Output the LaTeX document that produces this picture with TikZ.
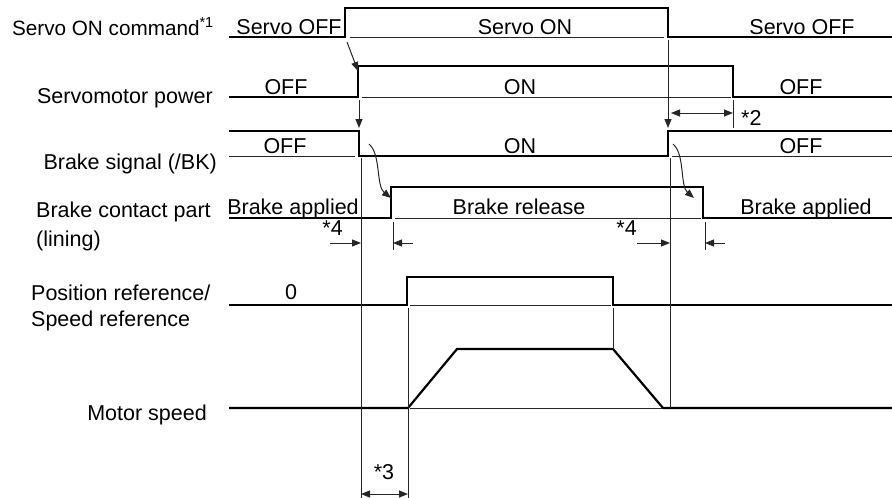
\documentclass[tikz,border=0pt]{standalone}
\usepackage{fontspec}
\setmainfont{Liberation Sans}
\usetikzlibrary{arrows.meta}
\begin{document}
\begin{tikzpicture}[x=1pt,y=-1pt,
  sig/.style={line width=2.2pt, line join=miter, draw=black},
  thinl/.style={line width=1pt, draw=black!85},
  arr/.style={thinl, -{Triangle[length=9pt,width=7pt]}},
  darr/.style={thinl, {Triangle[length=9pt,width=7pt]}-{Triangle[length=9pt,width=7pt]}},
  txt/.style={inner sep=0pt, font=\fontsize{21.5}{25}\selectfont, text=black},
  lt/.style={txt, anchor=base},
  le/.style={txt, anchor=base east},
  lw/.style={txt, anchor=base west}]
\useasboundingbox (0,0) rectangle (892,498);

% left labels
\node[le, font=\fontsize{20.7}{25}\selectfont] (l1) at (214,35) {Servo ON command\textsuperscript{*1}};
\node[le] (l2) at (213,103) {Servomotor power};
\node[le] (l3) at (217,169) {Brake signal (/BK)};
\node[lw] (l4) at (36,217) {Brake contact part};
\node[lw] (l4b) at (36,246) {(lining)};
\node[lw] (l5) at (31,300) {Position reference/};
\node[lw] (l5b) at (31,326) {Speed reference};
\node[le] (l6) at (207,420) {Motor speed};

% Row 1: servo on command
\draw[sig] (229,37) -- (345,37) -- (345,8) -- (668,8) -- (668,37) -- (892,37);
\draw[thinl] (350,37) -- (664,37);
\node[lt] (t11) at (289,34) {Servo OFF};
\node[lt] (t12) at (525,34) {Servo ON};
\node[lt] (t13) at (802,34) {Servo OFF};

% Row 2: servomotor power
\draw[sig] (229,97) -- (358,97) -- (358,66) -- (733,66) -- (733,97) -- (892,97);
\draw[thinl] (362,97) -- (731,97);
\node[lt] (t21) at (286,94) {OFF};
\node[lt] (t22) at (520,94) {ON};
\node[lt] (t23) at (801,94) {OFF};

% Row 3: brake signal
\draw[sig] (229,131) -- (359,131) -- (359,156) -- (668,156) -- (668,131) -- (892,131);
\draw[thinl] (229,156) -- (355,156);
\draw[thinl] (672,156) -- (892,156);
\node[lt] (t31) at (285,153) {OFF};
\node[lt] (t32) at (520,153) {ON};
\node[lt] (t33) at (801,153) {OFF};

% Row 4: brake contact part
\draw[sig] (229,218) -- (391,218) -- (391,187) -- (703,187) -- (703,218) -- (892,218);
\draw[thinl] (395,218) -- (701,218);
\node[lt] (t41) at (293,214) {Brake applied};
\node[lt] (t42) at (519,214) {Brake release};
\node[lt] (t43) at (806,214) {Brake applied};

% Row 5: position / speed reference
\draw[sig] (229,305) -- (407,305) -- (407,277) -- (613,277) -- (613,305) -- (892,305);
\draw[thinl] (410,305) -- (611,305);
\node[lt] (t51) at (291,299) {0};

% Row 6: motor speed
\draw[sig] (229,408) -- (408,408) -- (457,349) -- (613,349) -- (663,408) -- (892,408);
\draw[thinl] (410,408) -- (663,408);

% vertical guide lines
\draw[thinl] (361,158) -- (361,498);
\draw[thinl] (670,158) -- (670,408);
\draw[thinl] (408,308) -- (408,498);
\draw[thinl] (613,308) -- (613,349);
\draw[thinl] (733,100) -- (733,128);
\draw[thinl] (393,222) -- (393,250);
\draw[thinl] (705,222) -- (705,250);

% cause arrows
\draw[arr] (347,42) -- (358,71);
\draw[arr] (359,100) -- (359,128);
\draw[arr] (668,40) -- (668,128);
\draw[arr] (369,144) .. controls (381,154) and (376,186) .. (391,198);
\draw[arr] (673,144) .. controls (685,154) and (680,186) .. (694,198);

% *2
\draw[darr] (671,113) -- (733,113);
\node[lw] (n2) at (741,125) {*2};

% *4 left
\node[le] (n4a) at (343,235) {*4};
\draw[arr] (330,243) -- (361,243);
\draw[arr] (413,243) -- (393,243);
% *4 right
\node[le] (n4b) at (637,235) {*4};
\draw[arr] (637,243) -- (670,243);
\draw[arr] (725,243) -- (705,243);

% *3
\node[lt] (n3) at (384,479) {*3};
\draw[darr] (361,494) -- (408,494);
\end{tikzpicture}
\end{document}
